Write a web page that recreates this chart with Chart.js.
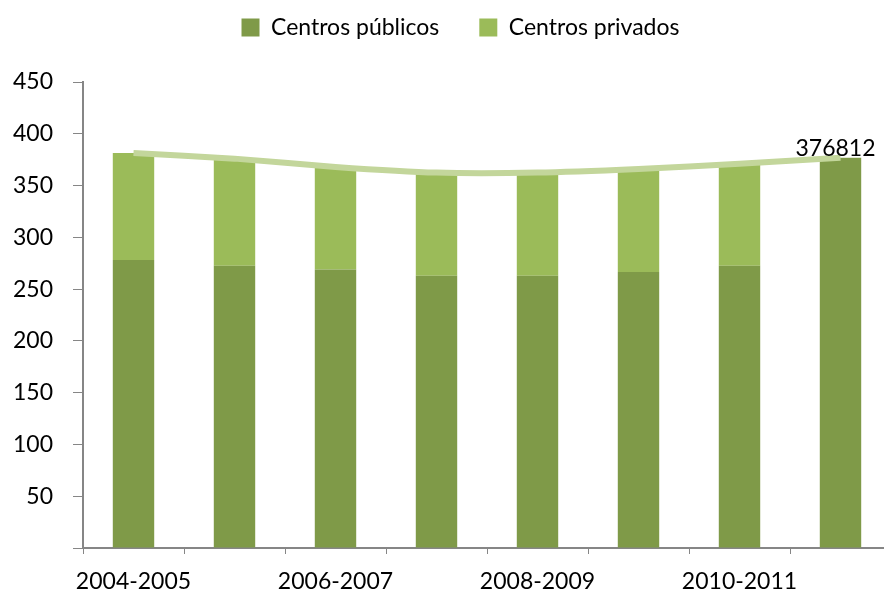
<!DOCTYPE html>
<html>
<head>
<meta charset="utf-8">
<script src="https://cdn.jsdelivr.net/npm/chart.js@4"></script>
<style>
  html, body { margin: 0; padding: 0; background: #fff; overflow: hidden; }
  #wrap { width: 891px; height: 595px; }
</style>
</head>
<body>
<div id="wrap"><canvas id="mychart"></canvas></div>
<script>
const cursos = ["2004-2005", "2005-2006", "2006-2007", "2007-2008",
  "2008-2009", "2009-2010", "2010-2011", "2011-2012"];
const publicos = [278, 272.5, 269, 263, 263, 266.5, 272.5, 376.812];
const privados = [103.5, 103.5, 99, 99, 99, 99.5, 98.5, 0];
const totales = [381.5, 376, 368, 362.5, 362.5, 366, 371, 376.812];
const etiquetaFinal = "376812";

const fuente = "Lato";

// legend taller so the plot starts lower, and nudged right, like the reference
const legendHeight = {
  id: "legendHeight",
  afterInit(chart) {
    const l = chart.legend;
    const fit = l.fit.bind(l);
    l.fit = function () { fit(); this.height = 106; };
  },
  afterLayout(chart) {
    chart.legend.left += 15;
    chart.legend.right += 15;
  }
};

const lastLabel = {
  id: "lastLabel",
  afterDatasetsDraw(chart) {
    const meta = chart.getDatasetMeta(0);
    const pt = meta.data[meta.data.length - 1];
    const c = chart.ctx;
    c.save();
    c.font = "23px " + fuente;
    c.fillStyle = "#000";
    c.textAlign = "center";
    c.textBaseline = "bottom";
    c.fillText(etiquetaFinal, pt.x - 5, pt.y + 2);
    c.restore();
  }
};

document.addEventListener("DOMContentLoaded", () => {
  const ctx = document.querySelector("#mychart").getContext("2d");
  new Chart(ctx, {
    type: "bar",
    data: {
      labels: cursos,
      datasets: [
        {
          label: "Total",
          type: "line",
          data: totales,
          borderColor: "#c3d69b",
          borderWidth: 6,
          pointRadius: 0,
          tension: 0.2,
          fill: false,
          order: 0
        },
        {
          label: "Centros públicos",
          data: publicos,
          backgroundColor: "#7f9a48",
          stack: "s",
          order: 1
        },
        {
          label: "Centros privados",
          data: privados,
          backgroundColor: "#9bbb59",
          stack: "s",
          order: 1
        }
      ]
    },
    options: {
      responsive: true,
      maintainAspectRatio: false,
      animation: false,
      layout: { padding: { top: -24, left: 0, right: 0, bottom: 0 } },
      datasets: { bar: { barPercentage: 0.41, categoryPercentage: 1 } },
      plugins: {
        tooltip: { enabled: false },
        legend: {
          position: "top",
          labels: {
            filter: item => item.text !== "Total",
            boxWidth: 18,
            boxHeight: 18,
            padding: 40,
            color: "#000",
            font: { family: fuente, size: 23 }
          }
        }
      },
      scales: {
        x: {
          stacked: true,
          grid: { drawOnChartArea: false, drawTicks: true, tickLength: 6, color: "#868686" },
          border: { color: "#868686", width: 2 },
          ticks: {
            autoSkip: false,
            maxRotation: 0,
            padding: 14,
            color: "#000",
            font: { family: fuente, size: 23 },
            callback: function (v, i) { return i % 2 === 0 ? this.getLabelForValue(v) : ""; }
          },
          afterFit: s => { s.height = 47; }
        },
        y: {
          stacked: true,
          min: 0,
          max: 450,
          grid: { drawOnChartArea: false, drawTicks: true, tickLength: 10, color: "#868686" },
          border: { color: "#868686", width: 2 },
          ticks: {
            stepSize: 50,
            padding: 20,
            color: "#000",
            font: { family: fuente, size: 23 },
            callback: v => (v === 0 ? "" : v)
          },
          afterFit: s => { s.width = 83; }
        }
      }
    },
    plugins: [legendHeight, lastLabel]
  });
});
</script>
</body>
</html>
